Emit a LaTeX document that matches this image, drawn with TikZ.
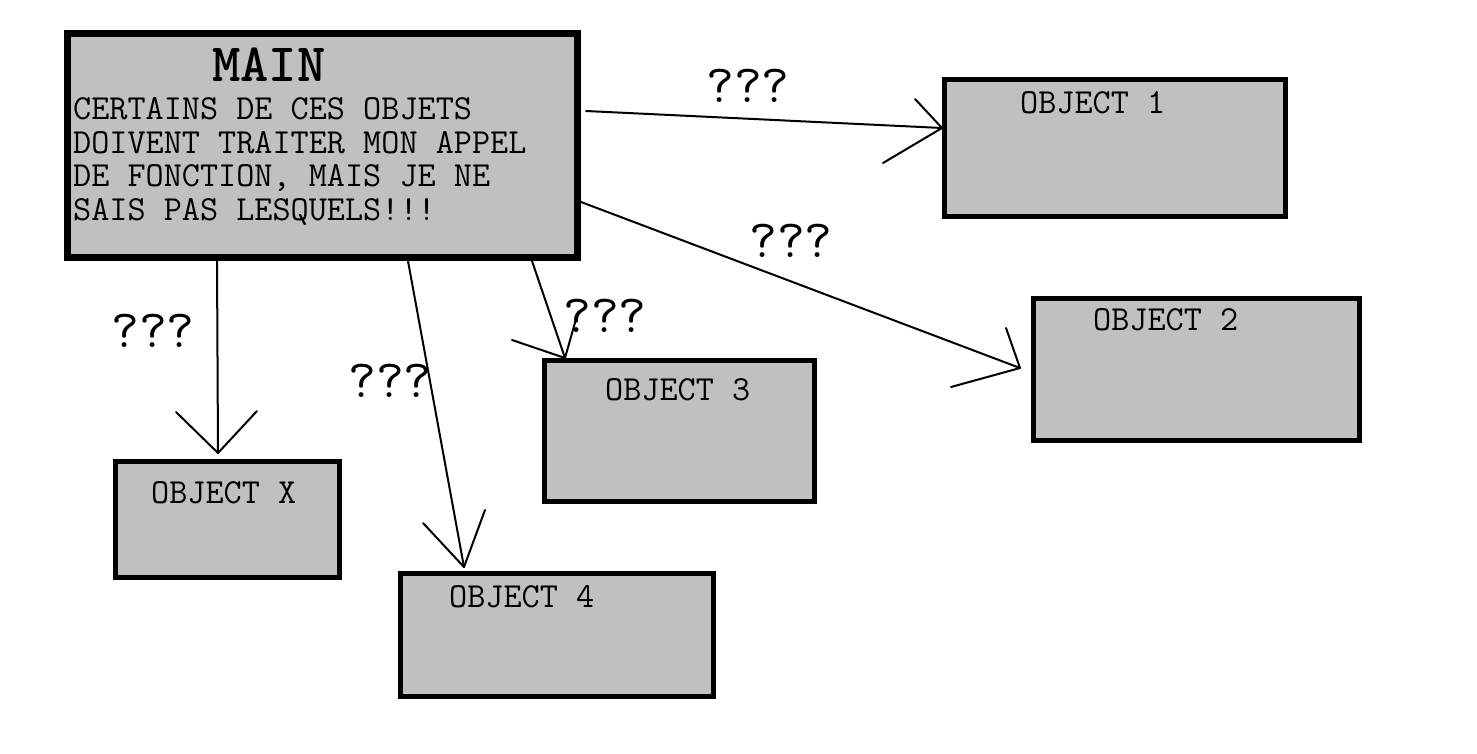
\documentclass[tikz,border=0pt]{standalone}
\usepackage{fontspec}
\usetikzlibrary{calc}
\definecolor{boxgray}{HTML}{C0C0C0}
\tikzset{
  objbox/.style={draw=black, fill=boxgray, line width=5pt, rectangle, inner sep=0pt, anchor=north west},
  mainbox/.style={objbox, line width=7pt},
  conn/.style={draw=black, line width=2pt, line cap=round, line join=round},
  objlbl/.style={anchor=base west, inner sep=0pt, font=\ttfamily\fontsize{35.2}{37}\selectfont},
  titlelbl/.style={anchor=base west, inner sep=0pt, font=\ttfamily\bfseries\fontsize{54}{56}\selectfont},
  qlbl/.style={anchor=base west, inner sep=0pt, font=\ttfamily\fontsize{54}{56}\selectfont},
}
\begin{document}
\begin{tikzpicture}[x=1pt,y=-1pt]
\useasboundingbox (0,0) rectangle (1477,754);
\fill[white] (0,0) rectangle (1477,754);

% boxes (outer corners)
\node[mainbox, minimum width=510pt, minimum height=224pt] (main) at (64,30) {};
\node[objbox, minimum width=341pt, minimum height=137pt] (o1) at (942,77) {};
\node[objbox, minimum width=326pt, minimum height=142pt] (o2) at (1031,296) {};
\node[objbox, minimum width=270pt, minimum height=141pt] (o3) at (542,358) {};
\node[objbox, minimum width=224pt, minimum height=116pt] (ox) at (113,459) {};
\node[objbox, minimum width=313pt, minimum height=123pt] (o4) at (398,571) {};

% texts
\node[titlelbl] (title) at (212,82) {MAIN};
\node[objlbl] (b1) at (73,120) {CERTAINS DE CES OBJETS};
\node[objlbl] (b2) at (73,153.5) {DOIVENT TRAITER MON APPEL};
\node[objlbl] (b3) at (73,187) {DE FONCTION, MAIS JE NE};
\node[objlbl] (b4) at (73,220.5) {SAIS PAS LESQUELS!!!};
\node[objlbl] (l1) at (1020,114) {OBJECT 1};
\node[objlbl] (l2) at (1093,330) {OBJECT 2};
\node[objlbl] (l3) at (605,400) {OBJECT 3};
\node[objlbl] (lx) at (151,503) {OBJECT X};
\node[objlbl] (l4) at (449,607) {OBJECT 4};

\node[qlbl] (q1) at (706,103) {???};
\node[qlbl] (q2) at (749,257) {???};
\node[qlbl] (q3) at (563,332) {???};
\node[qlbl] (qx) at (111,347) {???};
\node[qlbl] (q4) at (348,397) {???};

% connector end points
\coordinate (s1) at (586,111);
\coordinate (t1) at (o1.west |- 0,128);
\coordinate (s2) at (main.east |- 0,202);
\coordinate (t2) at (1020,368);
\coordinate (s3) at (main.south -| 532,0);
\coordinate (t3) at (o3.north -| 565,0);
\coordinate (sx) at (main.south -| 217,0);
\coordinate (tx) at (218,453);
\coordinate (s4) at (main.south -| 408,0);
\coordinate (t4) at (464,567);

% connectors
\draw[conn] (s1) -- (t1);
\draw[conn] ($(t1)+(-27,-29)$) -- (t1) -- ($(t1)+(-59,35)$);
\draw[conn] (s2) -- (t2);
\draw[conn] (1006,328) -- (t2) -- (951,387);
\draw[conn] (s3) -- (t3);
\draw[conn] (512,340) -- (t3) -- (578,312);
\draw[conn] (sx) -- (tx);
\draw[conn] (176,412) -- (tx) -- (257,411);
\draw[conn] (s4) -- (t4);
\draw[conn] (423,523) -- (t4) -- (485,510);
\end{tikzpicture}
\end{document}
